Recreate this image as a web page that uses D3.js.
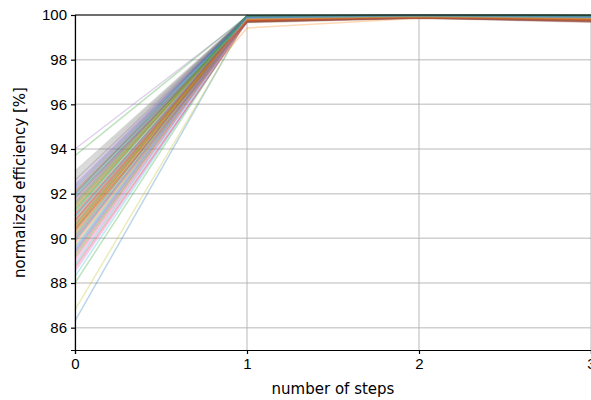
<!DOCTYPE html>
<html>
<head>
<meta charset="utf-8">
<script src="https://cdn.jsdelivr.net/npm/d3@7"></script>
<style>
  body { margin: 0; background: #fff; }
  svg { font-family: "DejaVu Sans", sans-serif; }
</style>
</head>
<body>
<div id="chart"></div>
<script>
const steps = [0, 1, 2, 3];
const xTicks = [0, 1, 2, 3];
const yTicks = [86, 88, 90, 92, 94, 96, 98, 100];

// efficiency per run at step 0..3
const step0 = [
  86.3, 90.4, 93.7, 89.1, 94.0, 90.2, 88.6, 92.9, 86.8, 89.4,
  91.8, 90.8, 88.0, 90.5, 92.4, 91.0, 89.0, 92.6, 90.1, 88.3,
  92.0, 89.8, 91.4, 88.7, 91.6, 90.6, 90.0, 92.2, 90.7, 91.2,
  89.6, 91.1, 92.1, 89.3, 92.5, 89.9, 91.3, 91.7, 89.7, 90.9,
  92.3, 90.3, 89.2, 91.5, 90.8, 91.9, 88.9, 93.0, 91.3, 89.5,
  90.6, 92.0, 90.4, 92.1, 89.4, 90.0, 91.7, 92.8, 90.5, 88.8,
  91.6, 90.9, 91.2, 90.3, 92.2, 90.7, 89.5, 92.4, 90.2, 91.9,
  90.1, 91.4, 91.5, 90.8, 91.0, 91.8, 88.5, 92.6, 90.6, 89.9,
  92.0, 90.5, 91.3, 91.1, 92.3, 90.4, 89.8, 92.7, 91.6, 91.0
];
const step1 = [
  99.85, 99.42, 99.95, 99.80, 99.90, 99.75, 99.70, 99.92, 99.78, 99.88,
  99.96, 99.72, 99.85, 99.82, 99.94, 99.68, 99.80, 99.90, 99.76, 99.84,
  99.97, 99.74, 99.93, 99.70, 99.88, 99.66, 99.78, 99.92, 99.80, 99.86,
  99.90, 99.73, 99.98, 99.77, 99.91, 99.70, 99.83, 99.95, 99.79, 99.87,
  99.93, 99.72, 99.89, 99.75, 99.86, 99.69, 99.81, 99.96, 99.77, 99.85,
  99.92, 99.74, 99.97, 99.73, 99.88, 99.71, 99.84, 99.94, 99.82, 99.86,
  99.91, 99.76, 99.96, 99.78, 99.89, 99.72, 99.82, 99.93, 99.81, 99.88,
  99.94, 99.75, 99.95, 99.79, 99.87, 99.70, 99.80, 99.97, 99.83, 99.86,
  99.95, 99.77, 99.94, 99.76, 99.90, 99.73, 99.85, 99.92, 99.80, 99.89
];
const step2 = [
  99.95, 99.86, 99.99, 99.92, 99.97, 99.90, 99.88, 99.96, 99.91, 99.94,
  99.98, 99.89, 99.95, 99.93, 99.97, 99.87, 99.92, 99.96, 99.90, 99.94,
  99.99, 99.89, 99.97, 99.88, 99.95, 99.86, 99.91, 99.96, 99.92, 99.94,
  99.96, 99.89, 99.99, 99.91, 99.96, 99.88, 99.93, 99.98, 99.91, 99.94,
  99.97, 99.89, 99.95, 99.90, 99.94, 99.87, 99.92, 99.98, 99.91, 99.93,
  99.96, 99.89, 99.98, 99.90, 99.95, 99.88, 99.93, 99.97, 99.92, 99.94,
  99.96, 99.90, 99.98, 99.91, 99.95, 99.89, 99.92, 99.97, 99.93, 99.95,
  99.97, 99.90, 99.98, 99.92, 99.94, 99.88, 99.91, 99.99, 99.93, 99.94,
  99.97, 99.91, 99.96, 99.90, 99.95, 99.89, 99.93, 99.96, 99.92, 99.95
];
const step3 = [
  99.92, 99.80, 99.98, 99.86, 99.95, 99.82, 99.75, 99.93, 99.84, 99.90,
  99.97, 99.78, 99.91, 99.87, 99.96, 99.72, 99.85, 99.94, 99.80, 99.89,
  99.98, 99.79, 99.95, 99.70, 99.92, 99.68, 99.83, 99.95, 99.86, 99.90,
  99.94, 99.76, 99.99, 99.81, 99.93, 99.74, 99.88, 99.97, 99.82, 99.91,
  99.95, 99.77, 99.92, 99.80, 99.89, 99.71, 99.86, 99.98, 99.79, 99.88,
  99.94, 99.78, 99.97, 99.81, 99.91, 99.73, 99.87, 99.96, 99.84, 99.90,
  99.93, 99.79, 99.96, 99.83, 99.90, 99.76, 99.85, 99.95, 99.82, 99.89,
  99.96, 99.77, 99.97, 99.84, 99.88, 99.72, 99.83, 99.98, 99.85, 99.87,
  99.95, 99.80, 99.94, 99.79, 99.92, 99.75, 99.88, 99.93, 99.83, 99.91
];

const runs = step0.map((v, i) => [v, step1[i], step2[i], step3[i]]);

const width = 591;
const height = 400;
const margin = { top: 15, right: 0, bottom: 50, left: 75 };

const x = d3.scaleLinear().domain([0, 3]).range([margin.left, width - margin.right]);
const y = d3.scaleLinear().domain([85, 100]).range([height - margin.bottom, margin.top]);
const color = d3.scaleOrdinal(d3.schemeCategory10);

const svg = d3
  .select("#chart")
  .append("svg")
  .attr("width", width)
  .attr("height", height);

// grid
svg
  .append("g")
  .selectAll("line")
  .data(yTicks)
  .enter()
  .append("line")
  .attr("x1", margin.left)
  .attr("x2", width - margin.right)
  .attr("y1", (d) => y(d))
  .attr("y2", (d) => y(d))
  .attr("stroke", "#b0b0b0")
  .attr("stroke-opacity", 0.6)
  .attr("stroke-width", 1.5);

svg
  .append("g")
  .selectAll("line")
  .data(xTicks)
  .enter()
  .append("line")
  .attr("x1", (d) => x(d))
  .attr("x2", (d) => x(d))
  .attr("y1", margin.top)
  .attr("y2", height - margin.bottom)
  .attr("stroke", "#b0b0b0")
  .attr("stroke-opacity", 0.6)
  .attr("stroke-width", 1.5);

// runs
const line = d3
  .line()
  .x((d, i) => x(steps[i]))
  .y((d) => y(d));

svg
  .append("g")
  .selectAll("path")
  .data(runs)
  .enter()
  .append("path")
  .attr("d", line)
  .attr("fill", "none")
  .attr("stroke", (d, i) => color(i % 10))
  .attr("stroke-opacity", 0.3)
  .attr("stroke-width", 1.5);

// axes
const xAxis = svg
  .append("g")
  .attr("transform", `translate(0,${height - margin.bottom})`)
  .call(d3.axisBottom(x).tickValues(xTicks).tickFormat(d3.format("d")).tickSizeOuter(0).tickSize(4).tickPadding(4));

const yAxis = svg
  .append("g")
  .attr("transform", `translate(${margin.left},0)`)
  .call(d3.axisLeft(y).tickValues(yTicks).tickSizeOuter(0).tickSize(4).tickPadding(4));

[xAxis, yAxis].forEach((g) => {
  g.select(".domain").attr("stroke", "#000").attr("stroke-width", 1.2);
  g.selectAll(".tick line").attr("stroke", "#000").attr("stroke-width", 1.2);
  g.selectAll(".tick text").attr("fill", "#000").style("font-size", "15px");
});

// top spine
svg
  .append("line")
  .attr("x1", margin.left)
  .attr("x2", width)
  .attr("y1", margin.top)
  .attr("y2", margin.top)
  .attr("stroke", "#000")
  .attr("stroke-width", 1.2);

svg
  .append("text")
  .attr("x", (margin.left + width - margin.right) / 2)
  .attr("y", 394)
  .attr("text-anchor", "middle")
  .style("font-size", "15px")
  .text("number of steps");

svg
  .append("text")
  .attr("transform", `translate(25,${(margin.top + height - margin.bottom) / 2}) rotate(-90)`)
  .attr("text-anchor", "middle")
  .style("font-size", "15px")
  .text("normalized efficiency [%]");
</script>
</body>
</html>
